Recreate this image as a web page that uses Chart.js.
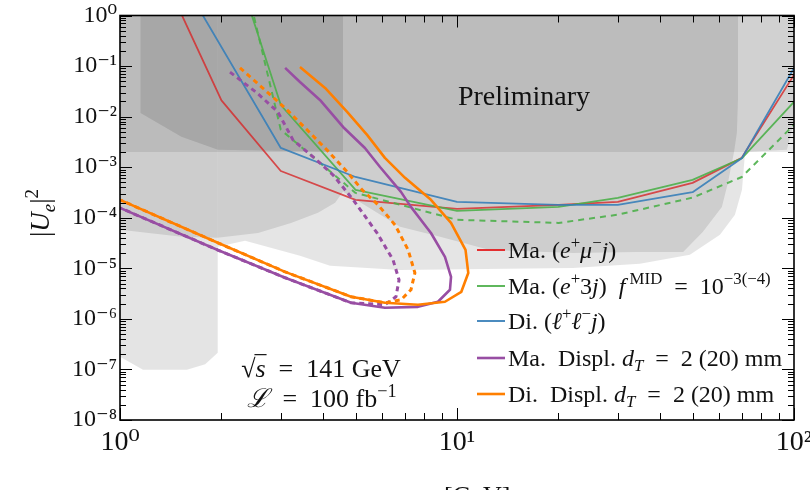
<!DOCTYPE html>
<html><head><meta charset="utf-8">
<script src="https://cdn.jsdelivr.net/npm/chart.js@4.4.1/dist/chart.umd.min.js"></script>
<style>html,body{margin:0;padding:0;background:#fff;}canvas{display:block}</style>
</head><body>
<canvas id="c" width="810" height="490" style="width:810px;height:490px"></canvas>
<script>
// ---------------- data ----------------
const xMajorTicks = [1, 10, 100];
const xTickLabels = ['10⁰', '10¹', '10²'];
const yMajorTicks = [1e-8, 1e-7, 1e-6, 1e-5, 1e-4, 1e-3, 1e-2, 1e-1, 1];
const yTickLabels = ['10⁻⁸', '10⁻⁷', '10⁻⁶', '10⁻⁵', '10⁻⁴', '10⁻³', '10⁻²', '10⁻¹', '10⁰'];

// shaded excluded regions (x = m_N [GeV], y = |U_e|^2), polygon vertices
const bandX = [0.9, 110, 110, 0.9];
const bandY = [2e-3, 2e-3, 2, 2];
const lowMassX = [0.9, 1.95, 1.95, 1.79, 1.58, 1.17, 1.0, 0.9];
const lowMassY = [2, 2, 2.14e-7, 1.26e-7, 9.9e-8, 9.9e-8, 1.78e-7, 1.78e-7];
const regionAX = [0.9, 4.59, 4.59, 4.35, 3.87, 3.22, 2.57, 1.95, 1.52, 1.0, 0.9];
const regionAY = [2, 2, 3.25e-4, 1.97e-4, 1.25e-4, 7.9e-5, 5.0e-5, 4.0e-5, 4.2e-5, 5.8e-5, 5.8e-5];
const regionBX = [1.15, 4.59, 4.59, 1.95, 1.52, 1.15];
const regionBY = [2, 2, 2.0e-3, 2.2e-3, 4.0e-3, 1.18e-2];
const regionCX = [4.59, 4.59, 6.77, 8.9, 12.5, 22.1, 34.9, 46.9, 53.7, 61.1, 63.7, 66.4, 67.7, 68.2, 68.2];
const regionCY = [2, 3.25e-4, 6.6e-5, 4.2e-5, 2.3e-5, 2.0e-5, 2.1e-5, 2.1e-5, 5.3e-5, 1.64e-4, 4.9e-4, 2.0e-3, 4.8e-3, 0.0214, 2];
const regionDX = [1.95, 1.95, 2.35, 3.42, 4.2, 6.77, 22.1, 34.9, 49.1, 60.3, 66.8, 70.1, 71.6, 95.3, 100, 110, 110];
const regionDY = [2, 2.66e-5, 3.5e-5, 1.77e-5, 1.12e-5, 9.3e-6, 1.02e-5, 1.23e-5, 1.85e-5, 4.6e-5, 1.14e-4, 3.56e-4, 2e-3, 2.2e-3, 7.9e-3, 7.9e-3, 2];

// sensitivity curves
const maEmujX = [1.5, 2, 3, 5, 10, 20, 30, 50, 70, 100];
const maEmujY = [1.3, 0.021, 8.4e-4, 2.26e-4, 1.5e-4, 1.8e-4, 2.06e-4, 4.9e-4, 1.53e-3, 0.067];
const maE3jX = [2.45, 3, 5, 10, 20, 30, 50, 70, 100];
const maE3jY = [1.1, 0.017, 3.56e-4, 1.37e-4, 1.64e-4, 2.47e-4, 5.6e-4, 1.5e-3, 0.0195];
const maE3jLowX = [2.5, 3, 5, 10, 20, 30, 50, 70, 100];
const maE3jLowY = [0.93, 5.5e-3, 3.1e-4, 9.1e-5, 7.9e-5, 1.15e-4, 2.5e-4, 6.4e-4, 6.9e-3];
const diLLjX = [1.7, 3, 5, 10, 20, 30, 50, 70, 100];
const diLLjY = [1.5, 2.4e-3, 6.4e-4, 2.06e-4, 1.8e-4, 1.8e-4, 3.2e-4, 1.5e-3, 0.092];
const maDisp2X = [3.09, 3.42, 3.92, 4.59, 5.33, 5.91, 6.82, 7.30, 8.37, 9.21, 9.60, 9.53, 8.78, 7.66, 6.11, 4.85, 3.09, 1.95, 1.0];
const maDisp2Y = [0.092, 0.0485, 0.0214, 6.25e-3, 2.4e-3, 1.01e-3, 3.25e-4, 1.64e-4, 5.0e-5, 1.69e-5, 6.8e-6, 3.76e-6, 2.18e-6, 1.73e-6, 1.66e-6, 2.08e-6, 6.5e-6, 2.3e-5, 1.57e-4];
const maDisp20X = [2.12, 2.55, 2.94, 3.26, 3.74, 4.29, 4.92, 5.79, 6.46, 6.73, 6.59, 6.11, 4.85, 3.09, 1.95, 1.0];
const maDisp20Y = [0.076, 0.0294, 0.0124, 3.47e-3, 1.6e-3, 7.0e-4, 2.26e-4, 5.0e-5, 1.47e-5, 5.9e-6, 2.74e-6, 1.9e-6, 2.08e-6, 6.5e-6, 2.3e-5, 1.57e-4];
const diDisp2X = [3.42, 4.06, 4.72, 5.41, 6.11, 7.01, 8.37, 9.60, 10.6, 10.8, 10.3, 9.21, 7.66, 6.11, 4.85, 3.09, 1.95, 1.0];
const diDisp2Y = [0.096, 0.0369, 0.0124, 4.35e-3, 1.53e-3, 6.15e-4, 2.26e-4, 7.9e-5, 2.32e-5, 8.1e-6, 3.43e-6, 2.18e-6, 1.9e-6, 2.08e-6, 2.74e-6, 8.5e-6, 3.2e-5, 2.26e-4];
const diDisp20X = [2.27, 2.55, 2.84, 3.13, 3.59, 4.11, 4.72, 5.23, 5.83, 6.55, 7.16, 7.5, 7.30, 6.82, 6.11, 4.85, 3.09, 1.95, 1.0];
const diDisp20Y = [0.092, 0.0464, 0.0245, 0.0136, 5.46e-3, 2.2e-3, 8.1e-4, 3.56e-4, 1.8e-4, 7.2e-5, 2.32e-5, 8.1e-6, 3.76e-6, 2.38e-6, 2.08e-6, 2.74e-6, 8.5e-6, 3.2e-5, 2.26e-4];

const seriesNames = ['Ma. (e⁺μ⁻j)', 'Ma. (e⁺3j) f^MID = 10^−3(−4)', 'Di. (ℓ⁺ℓ⁻j)', 'Ma. Displ. d_T = 2 (20) mm', 'Di. Displ. d_T = 2 (20) mm'];
// rich-text versions of the legend labels: [text, style]  (i=italic, ^=sup, _=sub)
const legendRich = [
  [['Ma. (', ''], ['e', 'i'], ['+', '^'], ['μ', 'i'], ['−', '^'], ['j', 'i'], [')', '']],
  [['Ma. (', ''], ['e', 'i'], ['+', '^'], ['3', ''], ['j', 'i'], [')  ', ''], ['f', 'i'], [' MID', '^'], ['  =  10', ''], ['−3(−4)', '^']],
  [['Di. (', ''], ['ℓ', 'i'], ['+', '^'], ['ℓ', 'i'], ['−', '^'], ['j', 'i'], [')', '']],
  [['Ma.  Displ. ', ''], ['d', 'i'], ['T', '_i'], ['  =  2 (20) mm', '']],
  [['Di.  Displ. ', ''], ['d', 'i'], ['T', '_i'], ['  =  2 (20) mm', '']]
];
const annotationPrelim = 'Preliminary';
const annotationEnergy = [['√', ''], ['s', 'i'], ['  =  141 GeV', '']];
const annotationLumi = [['ℒ', 'i'], ['  =  100 fb', ''], ['−1', '^']];
const yTitle = [['|', ''], ['U', 'i'], ['e', '_i'], ['|', ''], ['2', '^']];
const xTitle = [['m', 'i'], ['N', '_i'], ['  [GeV]', '']];

// ---------------- helpers ----------------
const FAM = "'Liberation Serif','DejaVu Serif',serif";
const pts = (xs, ys) => xs.map((x, i) => ({x: x, y: ys[i]}));
function decadeTicks(majors) {
  const t = [];
  majors.forEach((m, i) => { t.push(m); if (i < majors.length - 1) for (let k = 2; k <= 9; k++) t.push(m * k); });
  return t;
}
const isMajor = (v, majors) => majors.some(m => Math.abs(Math.log10(v) - Math.log10(m)) < 1e-6);
const labelFor = (majors, labels) => (v) => {
  const i = majors.findIndex(m => Math.abs(Math.log10(v) - Math.log10(m)) < 1e-6);
  return i >= 0 ? labels[i] : '';
};
function partFont(p, size) {
  const sub = p[1].indexOf('^') >= 0 || p[1].indexOf('_') >= 0;
  const s = sub ? size * 0.7 : size;
  return (p[1].indexOf('i') >= 0 ? 'italic ' : '') + s.toFixed(1) + 'px ' + FAM;
}
function richWidth(ctx, parts, size) {
  let w = 0;
  for (const p of parts) { ctx.font = partFont(p, size); w += ctx.measureText(p[0]).width; }
  return w;
}
function drawRich(ctx, parts, x, y, size) {
  let cx = x; const pos = [];
  for (const p of parts) {
    ctx.font = partFont(p, size);
    const dy = p[1].indexOf('^') >= 0 ? -0.4 * size : (p[1].indexOf('_') >= 0 ? 0.22 * size : 0);
    ctx.fillText(p[0], cx, y + dy);
    const w = ctx.measureText(p[0]).width;
    pos.push([cx, w]);
    cx += w;
  }
  return pos;
}

const fillDs = (xs, ys, a) => ({
  type: 'line', data: pts(xs, ys), fill: 'shape', backgroundColor: 'rgba(0,0,0,' + a + ')',
  borderWidth: 0, borderColor: 'rgba(0,0,0,0)', pointRadius: 0, order: 20
});
const lineDs = (label, xs, ys, color, w, dash, order) => ({
  type: 'line', label: label, data: pts(xs, ys), borderColor: color, borderWidth: w, borderDash: dash || [],
  fill: false, pointRadius: 0, tension: 0, order: order, borderCapStyle: 'butt', borderJoinStyle: 'round'
});

const COLORS = ['#e41a1c', '#4daf4a', '#377eb8', '#984ea3', '#ff7f00'];
const LINECOLORS = ['rgba(214,39,40,0.8)', 'rgba(77,175,74,0.9)', 'rgba(55,126,184,0.9)', '#984ea3', '#ff7f00'];
const WIDTHS = [1.8, 1.8, 1.8, 2.6, 2.6];

const decorPlugin = {
  id: 'decor',
  afterDatasetsDraw(chart) {
    const {ctx, chartArea: a, scales: {x, y}} = chart;
    ctx.save();
    ctx.strokeStyle = '#000';
    ctx.lineWidth = 1;
    ctx.beginPath();
    for (const v of decadeTicks(xMajorTicks)) {
      const px = Math.round(x.getPixelForValue(v)) + 0.5;
      const L = isMajor(v, xMajorTicks) ? 12 : 7;
      ctx.moveTo(px, a.bottom); ctx.lineTo(px, a.bottom - L);
      ctx.moveTo(px, a.top); ctx.lineTo(px, a.top + L);
    }
    for (const v of decadeTicks(yMajorTicks)) {
      const py = Math.round(y.getPixelForValue(v)) + 0.5;
      const L = isMajor(v, yMajorTicks) ? 12 : 6;
      ctx.moveTo(a.left, py); ctx.lineTo(a.left + L, py);
      ctx.moveTo(a.right, py); ctx.lineTo(a.right - L, py);
    }
    ctx.stroke();
    ctx.lineWidth = 1.6;
    ctx.strokeRect(a.left, a.top, a.right - a.left, a.bottom - a.top);
    ctx.restore();
  },
  afterDraw(chart) {
    const {ctx} = chart;
    ctx.save();
    ctx.fillStyle = '#111';
    ctx.textBaseline = 'alphabetic';
    ctx.textAlign = 'left';
    // Preliminary
    ctx.font = '28px ' + FAM;
    const wp = ctx.measureText(annotationPrelim).width;
    ctx.fillText(annotationPrelim, 524 - wp / 2, 105);
    // sqrt(s)
    const s1 = 26;
    const w1 = richWidth(ctx, annotationEnergy, s1);
    const pos = drawRich(ctx, annotationEnergy, 321 - w1 / 2, 377, s1);
    ctx.strokeStyle = '#111'; ctx.lineWidth = 1.2;
    ctx.beginPath();
    const by = 377 - 0.86 * s1;
    ctx.moveTo(pos[0][0] + pos[0][1] - 1, by); ctx.lineTo(pos[1][0] + pos[1][1] + 1, by); ctx.stroke();
    const w2 = richWidth(ctx, annotationLumi, s1);
    drawRich(ctx, annotationLumi, 322 - w2 / 2, 407, s1);
    // legend
    const rowsY = [250, 286, 321, 358, 394];
    for (let i = 0; i < 5; i++) {
      ctx.strokeStyle = COLORS[i]; ctx.lineWidth = WIDTHS[i];
      ctx.beginPath(); ctx.moveTo(477, rowsY[i]); ctx.lineTo(505, rowsY[i]); ctx.stroke();
      ctx.fillStyle = '#111';
      drawRich(ctx, legendRich[i], 508, rowsY[i] + 8, 24);
    }
    // y title
    ctx.save();
    ctx.translate(40, 213);
    ctx.rotate(-Math.PI / 2);
    const wy = richWidth(ctx, yTitle, 27);
    drawRich(ctx, yTitle, -wy / 2, 9, 27);
    ctx.restore();
    // x title (mostly below the visible area)
    drawRich(ctx, xTitle, 400, 504, 26);
    ctx.restore();
  }
};

const datasets = [
  lineDs(seriesNames[4], diDisp2X, diDisp2Y, LINECOLORS[4], 2.6, null, 1),
  lineDs(seriesNames[3], maDisp2X, maDisp2Y, LINECOLORS[3], 2.6, null, 2),
  lineDs(seriesNames[4] + ' (20 mm)', diDisp20X, diDisp20Y, LINECOLORS[4], 3, [5, 4], 3),
  lineDs(seriesNames[3] + ' (20 mm)', maDisp20X, maDisp20Y, LINECOLORS[3], 3, [5, 4], 4),
  lineDs(seriesNames[2], diLLjX, diLLjY, LINECOLORS[2], 1.8, null, 5),
  lineDs(seriesNames[1] + ' (10^-4)', maE3jLowX, maE3jLowY, LINECOLORS[1], 2, [6, 5], 6),
  lineDs(seriesNames[1], maE3jX, maE3jY, LINECOLORS[1], 1.8, null, 7),
  lineDs(seriesNames[0], maEmujX, maEmujY, LINECOLORS[0], 1.8, null, 8),
  fillDs(bandX, bandY, 0.09),
  fillDs(lowMassX, lowMassY, 0.105),
  fillDs(regionAX, regionAY, 0.1),
  fillDs(regionBX, regionBY, 0.11),
  fillDs(regionCX, regionCY, 0.1),
  fillDs(regionDX, regionDY, 0.1)
];

new Chart(document.getElementById('c'), {
  type: 'line',
  data: {datasets: datasets},
  options: {
    responsive: false, animation: false, devicePixelRatio: 1,
    layout: {padding: {left: 0, right: 16, top: 15.5, bottom: 0}},
    plugins: {legend: {display: false}, tooltip: {enabled: false}},
    elements: {point: {radius: 0}, line: {tension: 0}},
    scales: {
      x: {
        type: 'logarithmic', min: 1, max: 100,
        grid: {display: false, drawTicks: false}, border: {display: false},
        afterBuildTicks: s => { s.ticks = decadeTicks(xMajorTicks).map(v => ({value: v})); },
        afterFit: s => { s.height = 70; s.paddingLeft = 0; s.paddingRight = 0; },
        ticks: {autoSkip: false, maxRotation: 0, minRotation: 0, padding: 6, color: '#111',
          font: {family: FAM, size: 28}, callback: labelFor(xMajorTicks, xTickLabels)}
      },
      y: {
        type: 'logarithmic', min: 1e-8, max: 1,
        grid: {display: false, drawTicks: false}, border: {display: false},
        afterBuildTicks: s => { s.ticks = decadeTicks(yMajorTicks).map(v => ({value: v})); },
        afterFit: s => { s.width = 120; s.paddingTop = 0; s.paddingBottom = 0; },
        ticks: {autoSkip: false, padding: 3, color: '#111',
          font: {family: FAM, size: 24}, callback: labelFor(yMajorTicks, yTickLabels)}
      }
    }
  },
  plugins: [decorPlugin]
});
</script>
</body></html>
